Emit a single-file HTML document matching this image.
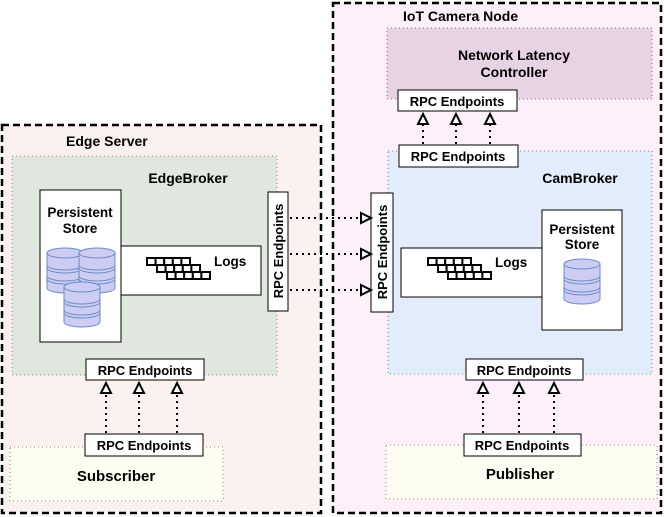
<!DOCTYPE html>
<html><head><meta charset="utf-8"><style>
html,body{margin:0;padding:0;background:#fff;}
svg{display:block;font-family:"Liberation Sans",Arial,sans-serif;font-weight:bold;}
</style></head><body>
<svg width="664" height="517" viewBox="0 0 664 517" xmlns="http://www.w3.org/2000/svg">
<defs>
<g id="cyl">
<path d="M0,5 L0,40 A18,5 0 0 0 36,40 L36,5" fill="#ccccf5" stroke="#6c8ebf" stroke-width="1"/>
<ellipse cx="18" cy="5" rx="18" ry="5" fill="#ccccf5" stroke="#6c8ebf"/>
<path d="M0,17 A18,5 0 0 0 36,17 M0,20 A18,5 0 0 0 36,20 M0,28 A18,5 0 0 0 36,28 M0,31 A18,5 0 0 0 36,31" fill="none" stroke="#6c8ebf"/>
</g>
<g id="logs" fill="#fff" stroke="#000" stroke-width="2">
<rect x="0" y="0" width="8.6" height="7"/><rect x="8.6" y="0" width="8.6" height="7"/><rect x="17.2" y="0" width="8.6" height="7"/><rect x="25.8" y="0" width="8.6" height="7"/><rect x="34.4" y="0" width="8.6" height="7"/>
<rect x="10" y="7" width="8.6" height="7"/><rect x="18.6" y="7" width="8.6" height="7"/><rect x="27.2" y="7" width="8.6" height="7"/><rect x="35.8" y="7" width="8.6" height="7"/><rect x="44.4" y="7" width="8.6" height="7"/>
<rect x="20" y="14" width="8.6" height="7"/><rect x="28.6" y="14" width="8.6" height="7"/><rect x="37.2" y="14" width="8.6" height="7"/><rect x="45.8" y="14" width="8.6" height="7"/><rect x="54.4" y="14" width="8.6" height="7"/>
</g>
<g id="up"><path d="M0,0 L-5,10 L5,10 Z" fill="#fff" stroke="#000" stroke-width="2"/></g>
<g id="rt"><path d="M0,0 L-10,-5 L-10,5 Z" fill="#fff" stroke="#000" stroke-width="2"/></g>
</defs>

<!-- Edge Server -->
<rect x="2" y="125" width="319" height="388" fill="#fbf2f0" stroke="#000" stroke-width="2.5" stroke-dasharray="7,4"/>
<text x="66" y="146" font-size="14">Edge Server</text>
<rect x="12" y="156" width="265" height="219" fill="#dfe7de" stroke="#8a8a6a" stroke-dasharray="1,3"/>
<text x="188" y="183" font-size="14" text-anchor="middle">EdgeBroker</text>
<rect x="121" y="246" width="140" height="49" fill="#fff" stroke="#000"/>
<rect x="40" y="190" width="81" height="152" fill="#fff" stroke="#000"/>
<text x="80" y="217" font-size="13.5" text-anchor="middle">Persistent</text>
<text x="80" y="233" font-size="13.5" text-anchor="middle">Store</text>
<use href="#cyl" x="47" y="248"/>
<use href="#cyl" x="79" y="248"/>
<use href="#cyl" x="64" y="282"/>
<use href="#logs" x="147" y="258"/>
<text x="214" y="266" font-size="13.5">Logs</text>
<rect x="268" y="192" width="20" height="119" fill="#fff" stroke="#000"/>
<text transform="translate(283,251) rotate(-90)" font-size="13" text-anchor="middle">RPC Endpoints</text>

<!-- Subscriber -->
<rect x="10" y="447" width="213" height="54" fill="#fdfdf1" stroke="#8a8a6a" stroke-dasharray="1,3"/>
<text x="116" y="481" font-size="15" text-anchor="middle">Subscriber</text>
<rect x="86" y="359" width="118" height="21" fill="#fff" stroke="#000"/>
<text x="145" y="375" font-size="13" text-anchor="middle">RPC Endpoints</text>
<rect x="85" y="434" width="118" height="22" fill="#fff" stroke="#000"/>
<text x="144" y="450" font-size="13" text-anchor="middle">RPC Endpoints</text>
<g stroke="#000" stroke-width="2" stroke-dasharray="2,4">
<line x1="106" y1="433" x2="106" y2="393"/><line x1="139" y1="433" x2="139" y2="393"/><line x1="177" y1="433" x2="177" y2="393"/>
</g>
<use href="#up" x="106" y="383"/><use href="#up" x="139" y="383"/><use href="#up" x="177" y="383"/>

<!-- IoT Camera Node -->
<rect x="333" y="3" width="328" height="510" fill="#fdf0fb" stroke="#000" stroke-width="2.5" stroke-dasharray="7,4"/>
<text x="403" y="21" font-size="14">IoT Camera Node</text>
<rect x="387" y="28" width="265" height="71" fill="#e7d3e4" stroke="#8a6a8a" stroke-dasharray="1,3"/>
<text x="514" y="60" font-size="14" text-anchor="middle">Network Latency</text>
<text x="514" y="77" font-size="14" text-anchor="middle">Controller</text>
<rect x="388" y="151" width="264" height="223" fill="#e3ecfa" stroke="#7a8a8a" stroke-dasharray="1,3"/>
<text x="580" y="183" font-size="14" text-anchor="middle">CamBroker</text>
<rect x="398" y="90" width="119" height="21" fill="#fff" stroke="#000"/>
<text x="457" y="106" font-size="13" text-anchor="middle">RPC Endpoints</text>
<rect x="399" y="145" width="119" height="22" fill="#fff" stroke="#000"/>
<text x="458" y="161" font-size="13" text-anchor="middle">RPC Endpoints</text>
<g stroke="#000" stroke-width="2" stroke-dasharray="2,4">
<line x1="423" y1="144" x2="423" y2="125"/><line x1="456" y1="144" x2="456" y2="125"/><line x1="490" y1="144" x2="490" y2="125"/>
</g>
<use href="#up" x="423" y="114"/><use href="#up" x="456" y="114"/><use href="#up" x="490" y="114"/>

<rect x="401" y="248" width="141" height="49" fill="#fff" stroke="#000"/>
<rect x="542" y="210" width="80" height="120" fill="#fff" stroke="#000"/>
<text x="582" y="234" font-size="13.5" text-anchor="middle">Persistent</text>
<text x="582" y="249" font-size="13.5" text-anchor="middle">Store</text>
<use href="#cyl" x="564" y="259"/>
<use href="#logs" x="428" y="258"/>
<text x="495" y="267" font-size="13.5">Logs</text>
<rect x="371" y="193" width="22" height="119" fill="#fff" stroke="#000"/>
<text transform="translate(387,252) rotate(-90)" font-size="13" text-anchor="middle">RPC Endpoints</text>

<!-- Publisher -->
<rect x="386" y="445" width="271" height="54" fill="#fdfdf1" stroke="#8a8a6a" stroke-dasharray="1,3"/>
<text x="520" y="479" font-size="15" text-anchor="middle">Publisher</text>
<rect x="466" y="359" width="117" height="21" fill="#fff" stroke="#000"/>
<text x="524" y="375" font-size="13" text-anchor="middle">RPC Endpoints</text>
<rect x="464" y="434" width="117" height="22" fill="#fff" stroke="#000"/>
<text x="522" y="450" font-size="13" text-anchor="middle">RPC Endpoints</text>
<g stroke="#000" stroke-width="2" stroke-dasharray="2,4">
<line x1="483" y1="433" x2="483" y2="393"/><line x1="519" y1="433" x2="519" y2="393"/><line x1="554" y1="433" x2="554" y2="393"/>
</g>
<use href="#up" x="483" y="383"/><use href="#up" x="519" y="383"/><use href="#up" x="554" y="383"/>

<!-- horizontal connectors -->
<g stroke="#000" stroke-width="2" stroke-dasharray="2,4">
<line x1="290" y1="218" x2="360" y2="218"/><line x1="290" y1="254" x2="360" y2="254"/><line x1="290" y1="290" x2="360" y2="290"/>
</g>
<use href="#rt" x="371" y="218"/><use href="#rt" x="371" y="254"/><use href="#rt" x="371" y="290"/>
</svg>
</body></html>
